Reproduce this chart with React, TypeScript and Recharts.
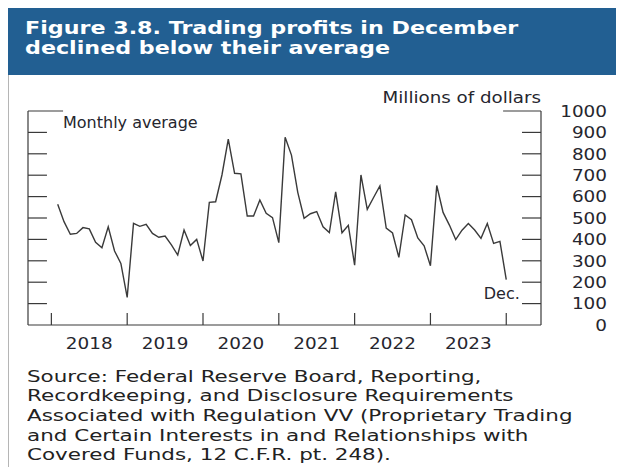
import { LineChart, Line, XAxis, YAxis, ReferenceLine, LabelList } from "recharts";

const years = ["2018", "2019", "2020", "2021", "2022", "2023"];
const profits2018 = [564, 483, 424, 428, 455, 449, 386, 361, 459, 346, 288, 129];
const profits2019 = [475, 461, 470, 428, 410, 416, 374, 327, 444, 371, 400, 299];
const profits2020 = [573, 576, 701, 869, 709, 706, 509, 509, 584, 522, 502, 385];
const profits2021 = [877, 794, 620, 499, 520, 530, 459, 432, 622, 431, 466, 280];
const profits2022 = [701, 540, 596, 650, 453, 430, 316, 514, 492, 407, 370, 277];
const profits2023 = [652, 526, 467, 399, 443, 474, 444, 405, 474, 381, 391, 212];
const yTicks = [0, 100, 200, 300, 400, 500, 600, 700, 800, 900, 1000];

const sourceLines = [
  "Source: Federal Reserve Board, Reporting,",
  "Recordkeeping, and Disclosure Requirements",
  "Associated with Regulation VV (Proprietary Trading",
  "and Certain Interests in and Relationships with",
  "Covered Funds, 12 C.F.R. pt. 248).",
];

const data = [profits2018, profits2019, profits2020, profits2021, profits2022, profits2023]
  .flat()
  .map((value, month) => ({ month, value }));

// year boundaries (tick marks) and mid-year label positions, in month index units
const xTicks = years.flatMap((_, k) => [12 * k - 1, 12 * k + 5]).concat(12 * years.length - 1);
const xDomain = [-4.7, 76.5];
const innerTicks = yTicks.filter((v) => v > 0 && v < 1000);

const FRAME = "#3a3a3a";
const TEXT = "#26262e";
const FONT = "DejaVu Sans";

const XTick = (props: any) => {
  const { x, y, payload } = props;
  const v = payload.value;
  if ((v + 1) % 12 === 0) {
    return <line x1={x} x2={x} y1={y} y2={y - 12} stroke={FRAME} strokeWidth={1.2} />;
  }
  return (
    <text
      transform={`translate(${x} ${y + 24}) scale(1.15 1)`}
      textAnchor="middle"
      fontFamily={FONT}
      fontSize={16}
      fill={TEXT}
    >
      {years[(v - 5) / 12]}
    </text>
  );
};

const RightTick = (props: any) => {
  const { x, y, payload } = props;
  const v = payload.value;
  return (
    <g>
      {v > 0 && v < 1000 && <line x1={x - 19} x2={x} y1={y} y2={y} stroke={FRAME} strokeWidth={1.2} />}
      <text
        transform={`translate(${x + 66} ${y + 5.8}) scale(1.15 1)`}
        textAnchor="end"
        fontFamily={FONT}
        fontSize={16}
        fill={TEXT}
      >
        {v}
      </text>
    </g>
  );
};

export default function App() {
  return (
    <div style={{ position: "relative", width: 616, height: 459, fontFamily: FONT }}>
      <div style={{ height: 67, background: "#225f92", position: "relative" }}>
        {["Figure 3.8. Trading profits in December", "declined below their average"].map((t, k) => (
          <div
            key={k}
            style={{
              position: "absolute",
              left: 17,
              top: 9.5 + k * 20.7,
              fontSize: 18.5,
              lineHeight: "20.7px",
              fontWeight: "bold",
              color: "#ffffff",
              whiteSpace: "nowrap",
              transform: "scaleX(1.2)",
              transformOrigin: "0 0",
            }}
          >
            {t}
          </div>
        ))}
      </div>
      <div style={{ position: "absolute", left: 0, top: 67, width: 1, height: 392, background: "#b5b5b5" }} />
      <div style={{ position: "relative", width: 616, height: 290 }}>
        <LineChart width={616} height={290} data={data} margin={{ top: 36, right: 0, left: 19, bottom: 0 }}>
          <XAxis
            dataKey="month"
            type="number"
            domain={xDomain}
            ticks={xTicks}
            interval={0}
            tickSize={0}
            tickMargin={0}
            tickLine={false}
            axisLine={{ stroke: FRAME, strokeWidth: 1.2 }}
            tick={XTick}
            height={40}
          />
          <YAxis
            yAxisId="r"
            orientation="right"
            domain={[0, 1000]}
            ticks={yTicks}
            interval={0}
            width={83}
            tickSize={0}
            tickMargin={0}
            tickLine={false}
            axisLine={{ stroke: FRAME, strokeWidth: 1.2 }}
            tick={RightTick}
          />
          <YAxis
            yAxisId="l"
            orientation="left"
            domain={[0, 1000]}
            width={1}
            tick={false}
            tickLine={false}
            axisLine={{ stroke: FRAME, strokeWidth: 1.2 }}
          />
          {innerTicks.map((v) => (
            <ReferenceLine
              key={v}
              yAxisId="r"
              segment={[{ x: xDomain[0], y: v }, { x: xDomain[0] + 3, y: v }]}
              stroke={FRAME}
              strokeWidth={1.2}
            />
          ))}
          <ReferenceLine
            yAxisId="r"
            segment={[{ x: xDomain[0], y: 1000 }, { x: 0.85, y: 1000 }]}
            stroke={FRAME}
            strokeWidth={1.2}
          />
          <ReferenceLine
            yAxisId="r"
            segment={[{ x: 70.5, y: 1000 }, { x: xDomain[1], y: 1000 }]}
            stroke={FRAME}
            strokeWidth={1.2}
          />
          <Line
            yAxisId="r"
            dataKey="value"
            type="linear"
            stroke="#3a3a3a"
            strokeWidth={1.4}
            dot={false}
            isAnimationActive={false}
          >
            <LabelList
              dataKey="value"
              content={(p: any) =>
                p.index === data.length - 1 ? (
                  <text x={p.x - 4.5} y={p.y + 19.5} textAnchor="middle" fontFamily={FONT} fontSize={16} fill={TEXT}>
                    Dec.
                  </text>
                ) : null
              }
            />
          </Line>
        </LineChart>
        <div
          style={{
            position: "absolute",
            left: 55,
            top: 40.3,
            fontSize: 16,
            lineHeight: "16px",
            color: TEXT,
            whiteSpace: "nowrap",
          }}
        >
          Monthly average
        </div>
        <div
          style={{
            position: "absolute",
            right: 83,
            top: 14.5,
            fontSize: 16,
            lineHeight: "16px",
            color: TEXT,
            whiteSpace: "nowrap",
            transform: "scaleX(1.14)",
            transformOrigin: "100% 0",
          }}
        >
          Millions of dollars
        </div>
      </div>
      <div style={{ paddingLeft: 19, marginTop: 2.5 }}>
        {sourceLines.map((t, k) => (
          <div
            key={k}
            style={{
              fontSize: 15,
              lineHeight: "19.7px",
              height: 19.7,
              color: "#222222",
              whiteSpace: "nowrap",
              transform: "scaleX(1.43)",
              transformOrigin: "0 0",
            }}
          >
            {t}
          </div>
        ))}
      </div>
    </div>
  );
}
